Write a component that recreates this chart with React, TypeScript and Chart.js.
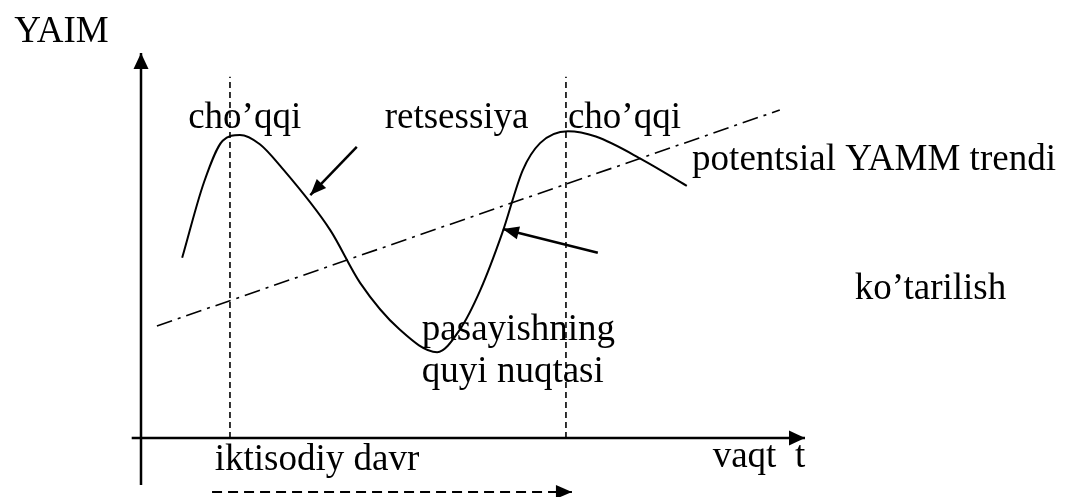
import React, { useEffect, useRef } from "react";
import { Chart, registerables } from "chart.js";

Chart.register(...registerables);

// ---- data (time t, GDP level) ----
const cycleT = [6.2, 9.5, 12.3, 14.9, 17.9, 21.0, 28.5, 33.0, 39.0, 44.6, 48.0, 51.1, 54.4, 57.5, 60.1, 64.3, 68.5, 75.6, 82.2];
const cycleGdp = [46.8, 66.5, 77.2, 78.7, 76.3, 70.6, 54.0, 40.3, 28.1, 22.3, 28.1, 38.4, 53.2, 69.6, 76.6, 79.7, 78.3, 72.2, 65.5];
const trendT = [2.4, 96.2];
const trendGdp = [29.1, 85.2];
const peakT = [13.4, 64.0];
const peakLineTop = 93.8;
const axisT = [-1.4, 100];
const axisGdp = [-12.2, 100];
const recessionArrowT = [32.5, 25.5];
const recessionArrowGdp = [75.6, 63.1];
const expansionArrowT = [68.8, 54.5];
const expansionArrowGdp = [48.1, 54.3];
const cycleSpanT = [10.7, 64.9];
const cycleSpanGdp = -14.0;

const labelTexts = [
  "YAIM",
  "cho’qqi",
  "retsessiya",
  "cho’qqi",
  "potentsial YAMM trendi",
  "ko’tarilish",
  "pasayishning",
  "quyi nuqtasi",
  "iktisodiy davr",
  "vaqt  t",
];

// ---- layout ----
const W = 1065;
const H = 497;
const X_MIN = -21.235;
const X_MAX = 139.157;
const Y_MIN = -15.325;
const Y_MAX = 113.766;
const labelPos: [number, number][] = [
  [-19.1, 102.9],
  [7.1, 80.5],
  [36.7, 80.5],
  [64.3, 80.5],
  [83.0, 69.6],
  [107.5, 36.0],
  [42.3, 25.5],
  [42.3, 14.5],
  [11.1, -8.3],
  [86.1, -7.5],
];
const FONT = '37px "Liberation Serif", "Times New Roman", serif';

const pts = (xs: number[], ys: number[]) => xs.map((x, i) => ({ x, y: ys[i] }));

const line = (data: any[], width: number, dash: number[] = [], extra: any = {}) => ({
  data,
  showLine: true,
  borderColor: "#000",
  backgroundColor: "#000",
  borderWidth: width,
  borderDash: dash,
  pointRadius: 0,
  pointHoverRadius: 0,
  fill: false,
  ...extra,
});

const arrowPlugin = {
  id: "arrowsAndText",
  afterDatasetsDraw(chart: any) {
    const ctx = chart.ctx;
    const xs = chart.scales.x;
    const ys = chart.scales.y;
    const heads: { from: [number, number]; to: [number, number]; len: number; wid: number }[] = [
      { from: [0, axisGdp[0]], to: [0, axisGdp[1]], len: 16, wid: 15 },
      { from: [axisT[0], 0], to: [axisT[1], 0], len: 16, wid: 15 },
      { from: [recessionArrowT[0], recessionArrowGdp[0]], to: [recessionArrowT[1], recessionArrowGdp[1]], len: 16, wid: 13 },
      { from: [expansionArrowT[0], expansionArrowGdp[0]], to: [expansionArrowT[1], expansionArrowGdp[1]], len: 16, wid: 13 },
      { from: [cycleSpanT[0], cycleSpanGdp], to: [cycleSpanT[1], cycleSpanGdp], len: 16, wid: 14 },
    ];
    ctx.save();
    ctx.fillStyle = "#000";
    for (const h of heads) {
      const x0 = xs.getPixelForValue(h.from[0]);
      const y0 = ys.getPixelForValue(h.from[1]);
      const x1 = xs.getPixelForValue(h.to[0]);
      const y1 = ys.getPixelForValue(h.to[1]);
      const a = Math.atan2(y1 - y0, x1 - x0);
      const bx = x1 - h.len * Math.cos(a);
      const by = y1 - h.len * Math.sin(a);
      const nx = -Math.sin(a) * (h.wid / 2);
      const ny = Math.cos(a) * (h.wid / 2);
      ctx.beginPath();
      ctx.moveTo(x1, y1);
      ctx.lineTo(bx + nx, by + ny);
      ctx.lineTo(bx - nx, by - ny);
      ctx.closePath();
      ctx.fill();
    }
    ctx.font = FONT;
    ctx.textAlign = "left";
    ctx.textBaseline = "alphabetic";
    labelTexts.forEach((t, i) => {
      const [lx, ly] = labelPos[i];
      ctx.fillText(t, xs.getPixelForValue(lx), ys.getPixelForValue(ly));
    });
    ctx.restore();
  },
};

export default function App() {
  const ref = useRef<HTMLCanvasElement>(null);
  useEffect(() => {
    if (!ref.current) return;
    const chart = new Chart(ref.current, {
      type: "scatter",
      data: {
        datasets: [
          line(pts([0, 0], axisGdp), 2.5),
          line(pts(axisT, [0, 0]), 2.5),
          line(pts([peakT[0], peakT[0]], [0, peakLineTop]), 1.6, [6, 4]),
          line(pts([peakT[1], peakT[1]], [0, peakLineTop]), 1.6, [6, 4]),
          line(pts(trendT, trendGdp), 1.6, [16, 6, 3, 6]),
          line(pts(cycleT, cycleGdp), 2, [], { cubicInterpolationMode: "monotone" }),
          line(pts(recessionArrowT, recessionArrowGdp), 2.5),
          line(pts(expansionArrowT, expansionArrowGdp), 2.5),
          line(pts(cycleSpanT, [cycleSpanGdp, cycleSpanGdp]), 2, [10, 6]),
        ],
      },
      options: {
        responsive: false,
        animation: false,
        events: [],
        layout: { padding: 0 },
        plugins: { legend: { display: false }, tooltip: { enabled: false } },
        scales: {
          x: { type: "linear", min: X_MIN, max: X_MAX, display: false },
          y: { type: "linear", min: Y_MIN, max: Y_MAX, display: false },
        },
      },
      plugins: [arrowPlugin],
    });
    return () => chart.destroy();
  }, []);
  return (
    <div style={{ position: "absolute", left: 0, top: 0, width: W, height: H, background: "#fff" }}>
      <canvas ref={ref} width={W} height={H} style={{ display: "block" }} />
    </div>
  );
}
